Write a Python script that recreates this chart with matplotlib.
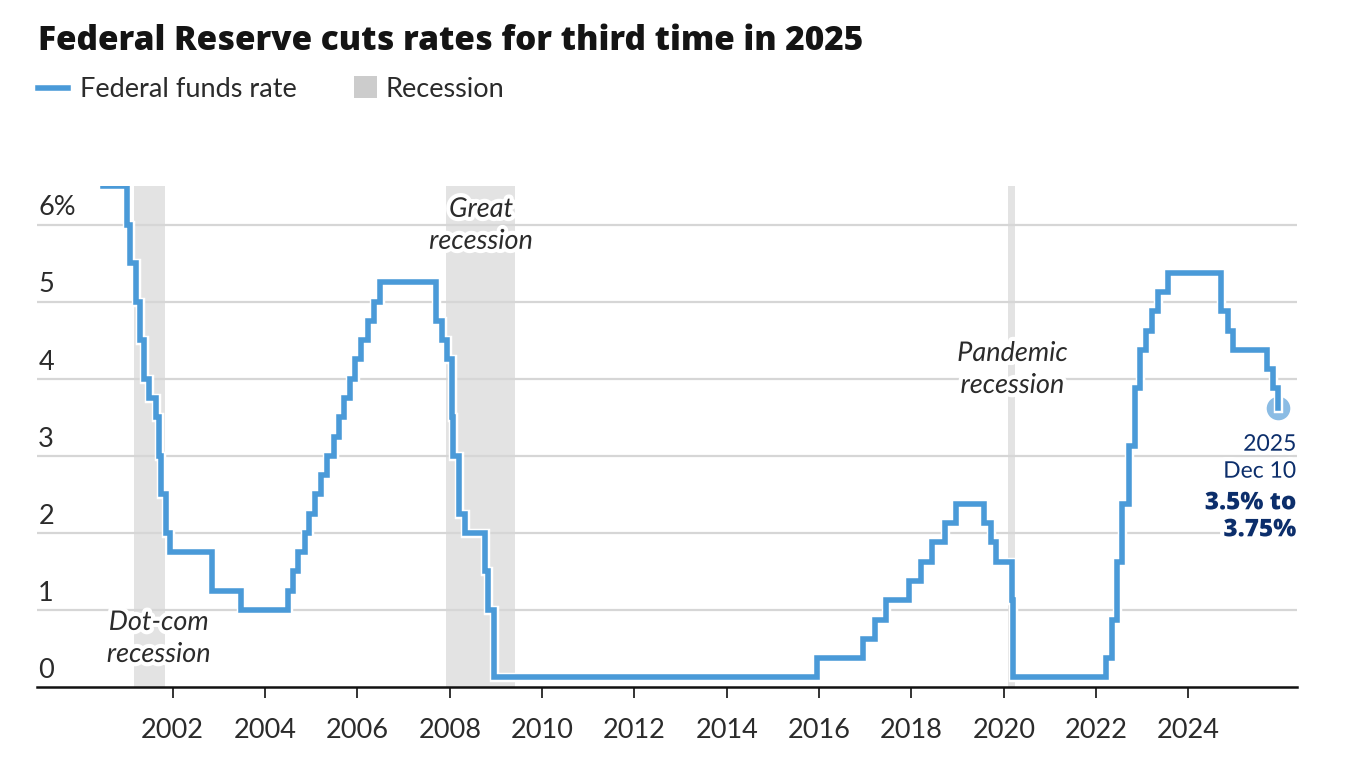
import matplotlib
matplotlib.use("Agg")
import matplotlib.pyplot as plt
import matplotlib.patheffects as pe
from matplotlib.lines import Line2D
from matplotlib.patches import Rectangle
from matplotlib.transforms import offset_copy, blended_transform_factory
import pandas as pd

# ---------------- data ----------------
rate_dates = [
    "2000-06-28", "2001-01-03", "2001-01-31", "2001-03-20", "2001-04-18", "2001-05-15",
    "2001-06-27", "2001-08-21", "2001-09-17", "2001-10-02", "2001-11-06", "2001-12-11",
    "2002-11-06", "2003-06-25", "2004-06-30", "2004-08-10", "2004-09-21", "2004-11-10",
    "2004-12-14", "2005-02-02", "2005-03-22", "2005-05-03", "2005-06-30", "2005-08-09",
    "2005-09-20", "2005-11-01", "2005-12-13", "2006-01-31", "2006-03-28", "2006-05-10",
    "2006-06-29", "2007-09-18", "2007-10-31", "2007-12-11", "2008-01-22", "2008-01-30",
    "2008-03-18", "2008-04-30", "2008-10-08", "2008-10-29", "2008-12-16", "2015-12-16",
    "2016-12-14", "2017-03-15", "2017-06-14", "2017-12-13", "2018-03-21", "2018-06-13",
    "2018-09-26", "2018-12-19", "2019-07-31", "2019-09-18", "2019-10-30", "2020-03-03",
    "2020-03-15", "2022-03-16", "2022-05-04", "2022-06-15", "2022-07-27", "2022-09-21",
    "2022-11-02", "2022-12-14", "2023-02-01", "2023-03-22", "2023-05-03", "2023-07-26",
    "2024-09-18", "2024-11-07", "2024-12-18", "2025-09-17", "2025-10-29", "2025-12-10",
]
rate_values = [
    6.50, 6.00, 5.50, 5.00, 4.50, 4.00,
    3.75, 3.50, 3.00, 2.50, 2.00, 1.75,
    1.25, 1.00, 1.25, 1.50, 1.75, 2.00,
    2.25, 2.50, 2.75, 3.00, 3.25, 3.50,
    3.75, 4.00, 4.25, 4.50, 4.75, 5.00,
    5.25, 4.75, 4.50, 4.25, 3.50, 3.00,
    2.25, 2.00, 1.50, 1.00, 0.125, 0.375,
    0.625, 0.875, 1.125, 1.375, 1.625, 1.875,
    2.125, 2.375, 2.125, 1.875, 1.625, 1.125,
    0.125, 0.375, 0.875, 1.625, 2.375, 3.125,
    3.875, 4.375, 4.625, 4.875, 5.125, 5.375,
    4.875, 4.625, 4.375, 4.125, 3.875, 3.625,
]

recession_starts = ["2001-03-01", "2007-12-01", "2020-02-01"]
recession_ends = ["2001-11-01", "2009-06-01", "2020-04-01"]
recession_labels = ["Dot-com\nrecession", "Great\nrecession", "Pandemic\nrecession"]
recession_label_x = [2001.70, 2008.68, 2020.19]
recession_label_y = [0.63, 5.99, 4.12]

end_labels = ["2025", "Dec 10", "3.5% to", "3.75%"]
end_label_y = [3.15, 2.80, 2.39, 2.04]
end_label_bold = [False, False, True, True]

x_ticks = [2002, 2004, 2006, 2008, 2010, 2012, 2014, 2016, 2018, 2020, 2022, 2024]
x_tick_labels = [str(y) for y in x_ticks]
y_ticks = [0, 1, 2, 3, 4, 5, 6]
y_tick_labels = ["0", "1", "2", "3", "4", "5", "6%"]


def to_decimal_year(s):
    d = pd.Timestamp(s)
    days = 366 if d.is_leap_year else 365
    return d.year + (d.dayofyear - 1) / days


rate_x = [to_decimal_year(d) for d in rate_dates]
rec_x0 = [to_decimal_year(d) for d in recession_starts]
rec_x1 = [to_decimal_year(d) for d in recession_ends]

# ---------------- style ----------------
FONT = ["Lato", "DejaVu Sans"]
BOLDFONT = ["Open Sans", "DejaVu Sans"]
plt.rcParams["font.family"] = FONT
LINE_C = "#4a9ad8"
REC_C = "#e3e3e3"
NAVY = "#0c2e6b"
TXT = "#2b2b2b"

fig = plt.figure(figsize=(13.52, 7.68), dpi=100)
W, H = 1352, 768
ax = fig.add_axes([37 / W, (H - 687) / H, (1297 - 37) / W, (687 - 186) / H])

ax.set_xlim(1999.06, 2026.35)
ax.set_ylim(0, 6.5)

for x0, x1 in zip(rec_x0, rec_x1):
    ax.axvspan(x0, x1, color=REC_C, lw=0, zorder=0)

for yv in y_ticks[1:]:
    ax.axhline(yv, color="#d6d6d6", lw=1.6, zorder=1)

ax.step(rate_x, rate_values, where="post", color=LINE_C, lw=4.0, zorder=4,
        solid_joinstyle="miter",
        path_effects=[pe.Stroke(linewidth=6.8, foreground="white"), pe.Normal()])

ax.plot([rate_x[-1]], [rate_values[-1]], "o", ms=17, color="#8bbce4", zorder=3,
        markeredgewidth=0)

# recession labels with white halo
halo = [pe.withStroke(linewidth=6, foreground="white")]
for lx, lab, ly in zip(recession_label_x, recession_labels, recession_label_y):
    ax.text(lx, ly, lab, ha="center", va="center", style="italic",
            fontsize=19.5, color=TXT, linespacing=1.35, zorder=5, path_effects=halo)

# end annotation
ann_x = 2026.33
for lab, ly, b in zip(end_labels, end_label_y, end_label_bold):
    ax.text(ann_x, ly, lab, ha="right", va="center", color=NAVY, zorder=5,
            fontsize=17.5 if b else 16.5,
            family=BOLDFONT if b else FONT,
            fontweight=800 if b else "normal", path_effects=halo)

# axes styling
for s in ["top", "right", "left"]:
    ax.spines[s].set_visible(False)
ax.spines["bottom"].set_color("#111111")
ax.spines["bottom"].set_linewidth(1.8)
ax.spines["bottom"].set_zorder(6)

ax.set_xticks(x_ticks, x_tick_labels)
ax.tick_params(axis="x", length=8, width=1.2, color="#111111", pad=14,
               labelsize=19.5, labelcolor=TXT)
ax.set_yticks([])

btr = blended_transform_factory(ax.transAxes, ax.transData)
for yv, lab in zip(y_ticks, y_tick_labels):
    ax.text(0.001, yv, lab, transform=offset_copy(btr, fig=fig, x=0, y=12, units="points"),
            ha="left", va="center", fontsize=19.5, color=TXT, zorder=5)

# title
fig.text(38 / W, 1 - 49.5 / H, "Federal Reserve cuts rates for third time in 2025",
         ha="left", va="baseline", fontsize=24, fontweight=800, color="#141414",
         family=BOLDFONT)

# legend
fig.add_artist(Line2D([38 / W, 68 / W], [1 - 87.5 / H, 1 - 87.5 / H], color=LINE_C, lw=4.0,
                      transform=fig.transFigure))
fig.text(80 / W, 1 - 97 / H, "Federal funds rate", ha="left", va="baseline",
         fontsize=19.5, color=TXT)
fig.add_artist(Rectangle((354 / W, 1 - 98 / H), 23 / W, 22 / H, color="#cccccc",
                         transform=fig.transFigure, lw=0))
fig.text(386 / W, 1 - 97 / H, "Recession", ha="left", va="baseline", fontsize=19.5, color=TXT)

fig.savefig("out.png", dpi=100, facecolor="white")
